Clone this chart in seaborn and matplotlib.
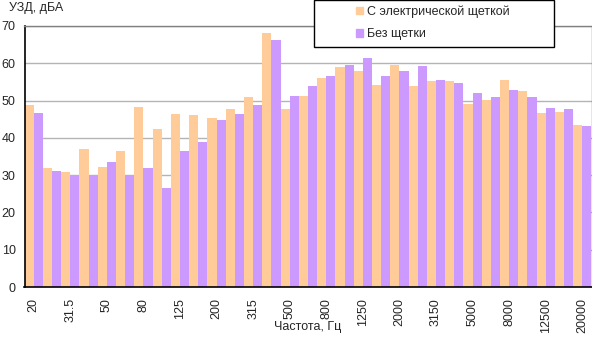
import pandas as pd
import numpy as np

import matplotlib
matplotlib.use('Agg')
import matplotlib.pyplot as plt
import seaborn as sns

# 1/3 octave bands, Hz
freqs = ['20', '25', '31.5', '40', '50', '63', '80', '100', '125', '160',
         '200', '250', '315', '400', '500', '630', '800', '1000', '1250', '1600',
         '2000', '2500', '3150', '4000', '5000', '6300', '8000', '10000', '12500',
         '16000', '20000']

# sound pressure level, dBA
with_brush = [48.8, 32.0, 30.9, 37.0, 32.3, 36.5, 48.3, 42.4, 46.4, 46.2,
              45.4, 47.8, 51.0, 68.1, 47.8, 51.2, 56.0, 59.0, 57.9, 54.1,
              59.5, 53.9, 55.2, 55.2, 49.0, 50.1, 55.5, 52.5, 46.6, 46.9, 43.4]
no_brush = [46.7, 31.2, 30.1, 30.1, 33.6, 30.1, 32.0, 26.6, 36.5, 38.9,
            44.9, 46.4, 48.8, 66.2, 51.2, 53.9, 56.5, 59.5, 61.4, 56.5,
            57.9, 59.2, 55.5, 54.6, 52.0, 50.9, 52.8, 50.9, 47.9, 47.7, 43.2]

series_names = ['С электрической щеткой', 'Без щетки']
colors = ['#FFCC99', '#CC99FF']

df = pd.DataFrame({
    'freq': freqs * 2,
    'level': with_brush + no_brush,
    'series': [series_names[0]] * len(freqs) + [series_names[1]] * len(freqs),
})

sns.set_style('white')
plt.rcParams['font.family'] = ['Liberation Sans', 'DejaVu Sans']
fs = 9

W, H = 592, 338
fig = plt.figure(figsize=(W / 100, H / 100), dpi=100)
ax = fig.add_axes([24.5 / W, (H - 287) / H, 567 / W, (287 - 26) / H])

sns.barplot(data=df, x='freq', y='level', hue='series', order=freqs,
            hue_order=series_names, palette=colors, width=1.0, gap=0,
            saturation=1, linewidth=0, legend=False, ax=ax)

ax.set_xlim(-0.5, len(freqs) - 0.5)
ax.set_ylim(0, 70)
ax.set_yticks(range(0, 71, 10))
ax.yaxis.grid(True, color='#b4b4b4', linewidth=1)
ax.set_axisbelow(True)

# labels on every other band, ticks on band borders
ax.set_xticks(range(0, len(freqs), 2))
ax.set_xticklabels(freqs[::2], rotation=90)
ax.set_xticks(np.arange(-0.5, len(freqs), 1), minor=True)
ax.tick_params(axis='x', which='major', length=0, pad=8, labelsize=fs)
ax.tick_params(axis='x', which='minor', length=3.3, width=1, color='black', direction='out')
ax.tick_params(axis='y', length=3.3, width=1, color='black', direction='out', pad=3, labelsize=fs)
ax.set_xlabel('')
ax.set_ylabel('')

for side in ['left', 'bottom']:
    ax.spines[side].set_color('black')
    ax.spines[side].set_linewidth(1.2)
for side in ['top', 'right']:
    ax.spines[side].set_color('#808080')
    ax.spines[side].set_linewidth(1)

fig.text(9 / W, 1 - 8 / H, 'УЗД, дБА', fontsize=fs, va='center', ha='left')
fig.text(308 / W, 1 - 327 / H, 'Частота, Гц', fontsize=fs, va='center', ha='center')

# legend box
box = plt.Rectangle((314 / W, 1 - 47 / H), 240 / W, 47 / H, transform=fig.transFigure,
                    facecolor='white', edgecolor='black', linewidth=1, zorder=5)
fig.patches.append(box)

handles = [plt.Rectangle((0, 0), 1, 1, color=c) for c in colors]
leg = fig.legend(handles, series_names, loc='upper left',
                 bbox_to_anchor=(356 / W, 1 - 5.5 / H), fontsize=fs, frameon=False,
                 handlelength=0.58, handleheight=0.58, handletextpad=0.3,
                 borderpad=0, labelspacing=0.84, borderaxespad=0)
leg.set_zorder(6)

fig.savefig('out.png', dpi=100)
